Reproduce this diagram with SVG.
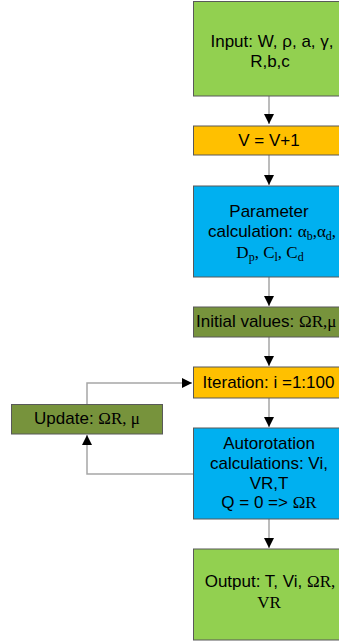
<svg xmlns="http://www.w3.org/2000/svg" width="339" height="642" viewBox="0 0 339 642">
<defs>
<style>
.box{stroke:#595959;stroke-width:1}
.g{fill:#92D050}.o{fill:#FFC000}.b{fill:#00B0F0}.d{fill:#77933C}
text{font-family:"Liberation Sans",Arial,sans-serif;font-size:17px;fill:#000;text-anchor:middle}
.s{font-family:"Liberation Serif","Times New Roman",serif}
.sub{font-size:12px}
.c{fill:none;stroke:#A6A6A6;stroke-width:1.5}
</style>
<marker id="ah" viewBox="0 0 10 10" refX="10" refY="5" markerWidth="10" markerHeight="10" markerUnits="userSpaceOnUse" orient="auto">
<path d="M0,0 L10,5 L0,10 z" fill="#000"/>
</marker>
</defs>
<g id="connectors">
<path class="c" d="M269,96 V124" marker-end="url(#ah)"/>
<path class="c" d="M269,155 V185" marker-end="url(#ah)"/>
<path class="c" d="M269,277 V306" marker-end="url(#ah)"/>
<path class="c" d="M269,337 V366" marker-end="url(#ah)"/>
<path class="c" d="M269,398 V427" marker-end="url(#ah)"/>
<path class="c" d="M269,519 V548" marker-end="url(#ah)"/>
<path class="c" d="M87,404 V383 H192" marker-end="url(#ah)"/>
<path class="c" d="M193,474 H87 V435" marker-end="url(#ah)"/>
</g>
<g id="input">
<rect class="box g" x="193.5" y="1.5" width="150" height="94.5"/>
<text x="272" y="47">Input: W, ρ, a, γ,</text>
<text x="270" y="67">R,b,c</text>
</g>
<g id="vinc">
<rect class="box o" x="193.5" y="126" width="150" height="29"/>
<text x="269" y="146">V = V+1</text>
</g>
<g id="param">
<rect class="box b" x="193.5" y="186" width="150" height="91"/>
<text x="269" y="216.5">Parameter</text>
<text x="272" y="237">calculation: <tspan class="s">α<tspan class="sub" dy="3">b</tspan><tspan dy="-3">,α</tspan><tspan class="sub" dy="3">d</tspan><tspan dy="-3">,</tspan></tspan></text>
<text x="270" y="258" class="s">D<tspan class="sub" dy="3">p</tspan><tspan dy="-3">, C</tspan><tspan class="sub" dy="3">l</tspan><tspan dy="-3">, C</tspan><tspan class="sub" dy="3">d</tspan></text>
</g>
<g id="initial">
<rect class="box d" x="193.5" y="307" width="150" height="30"/>
<text x="196" y="327" style="text-anchor:start">Initial values: <tspan class="s">ΩR,μ</tspan></text>
</g>
<g id="iteration">
<rect class="box o" x="193.5" y="367" width="150" height="31"/>
<text x="268.5" y="388">Iteration: i =1:100</text>
</g>
<g id="update">
<rect class="box d" x="11.5" y="404.5" width="151" height="29.5"/>
<text x="87" y="424">Update: <tspan class="s">ΩR, μ</tspan></text>
</g>
<g id="autorot">
<rect class="box b" x="193.5" y="428" width="150" height="91"/>
<text x="269" y="449">Autorotation</text>
<text x="269" y="469">calculations: Vi,</text>
<text x="269" y="488.5">VR,T</text>
<text x="269" y="508">Q = 0 =&gt; <tspan class="s">ΩR</tspan></text>
</g>
<g id="output">
<rect class="box g" x="193.5" y="549" width="150" height="91"/>
<text x="270" y="587">Output: T, Vi, <tspan class="s">ΩR,</tspan></text>
<text x="269" y="608" class="s">VR</text>
</g>
</svg>
